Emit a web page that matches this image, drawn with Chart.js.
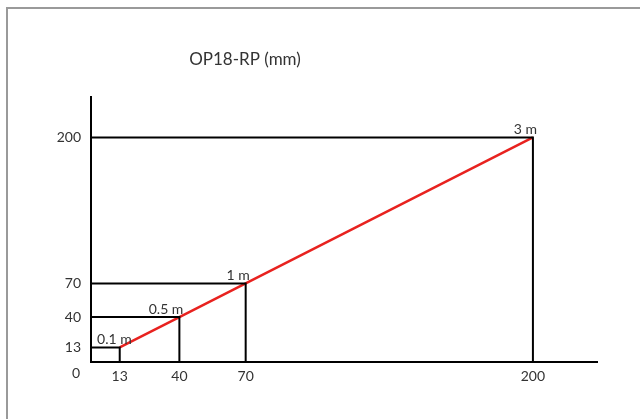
<!DOCTYPE html>
<html>
<head>
<meta charset="utf-8">
<script src="https://cdn.jsdelivr.net/npm/chart.js@4/dist/chart.umd.min.js"></script>
<style>
  html, body { margin: 0; padding: 0; background: #fff; }
  #wrap { width: 640px; height: 419px; }
</style>
</head>
<body>
<div id="wrap"><canvas id="chartOP18"></canvas></div>
<script>
// valores
const xVals = [13, 40, 70, 200];
const yVals = [13, 40, 70, 200];
const distLabels = ['0.1 m', '0.5 m', '1 m', '3 m'];
const tickVals = [13, 40, 70, 200];
const titulo = 'OP18-RP (mm)';

const fonte = 'Lato, "Open Sans", sans-serif';
const corTexto = '#333333';

// linhas guia pretas (horizontal ate o ponto, depois vertical ate o eixo)
const guias = xVals.map((x, i) => ({
    data: [{ x: 0, y: yVals[i] }, { x: x, y: yVals[i] }, { x: x, y: 0 }],
    borderColor: '#000',
    borderWidth: 2,
    pointRadius: 0,
    showLine: true,
    clip: false
}));

const linhaVermelha = {
    data: xVals.map((x, i) => ({ x: x, y: yVals[i] })),
    borderColor: '#e8221f',
    borderWidth: 2.5,
    pointRadius: 0,
    showLine: true,
    clip: false
};

const extras = {
    id: 'extras',
    beforeDraw(chart) {
        const c = chart.ctx;
        c.save();
        c.strokeStyle = '#9a9a9a';
        c.lineWidth = 2;
        c.beginPath();
        c.moveTo(7, 425);
        c.lineTo(7, 8);
        c.lineTo(650, 8);
        c.stroke();
        c.restore();
    },
    afterDraw(chart) {
        const c = chart.ctx;
        const sx = chart.scales.x, sy = chart.scales.y;
        c.save();
        c.fillStyle = corTexto;
        c.font = '17px ' + fonte;
        c.textAlign = 'center';
        c.textBaseline = 'middle';
        c.fillText(titulo, 245, 60);

        c.font = '14px ' + fonte;
        c.fillText('0', sx.getPixelForValue(0) - 15, sy.getPixelForValue(0) + 11);

        c.textAlign = 'right';
        c.textBaseline = 'alphabetic';
        xVals.forEach((x, i) => {
            const dx = i === 0 ? 12 : 4;
            c.fillText(distLabels[i], sx.getPixelForValue(x) + dx, sy.getPixelForValue(yVals[i]) - 3);
        });
        c.restore();
    }
};

new Chart(document.getElementById('chartOP18').getContext('2d'), {
    type: 'scatter',
    data: { datasets: [...guias, linhaVermelha] },
    options: {
        responsive: true,
        maintainAspectRatio: false,
        animation: false,
        layout: { padding: { top: 97, right: 43, left: 0, bottom: 0 } },
        plugins: { legend: { display: false }, tooltip: { enabled: false } },
        scales: {
            x: {
                type: 'linear',
                min: 0,
                max: 229,
                afterBuildTicks: s => { s.ticks = tickVals.map(v => ({ value: v })); },
                afterFit: s => { s.height = 419 - 362; },
                grid: { display: false, drawTicks: false },
                border: { color: '#000', width: 2 },
                ticks: { color: corTexto, font: { family: fonte, size: 14 }, padding: 6 }
            },
            y: {
                type: 'linear',
                min: 0,
                max: 236,
                afterBuildTicks: s => { s.ticks = tickVals.map(v => ({ value: v })); },
                afterFit: s => { s.width = 91; },
                grid: { display: false, drawTicks: false },
                border: { color: '#000', width: 2 },
                ticks: { color: corTexto, font: { family: fonte, size: 14 }, padding: 10 }
            }
        }
    },
    plugins: [extras]
});
</script>
</body>
</html>
